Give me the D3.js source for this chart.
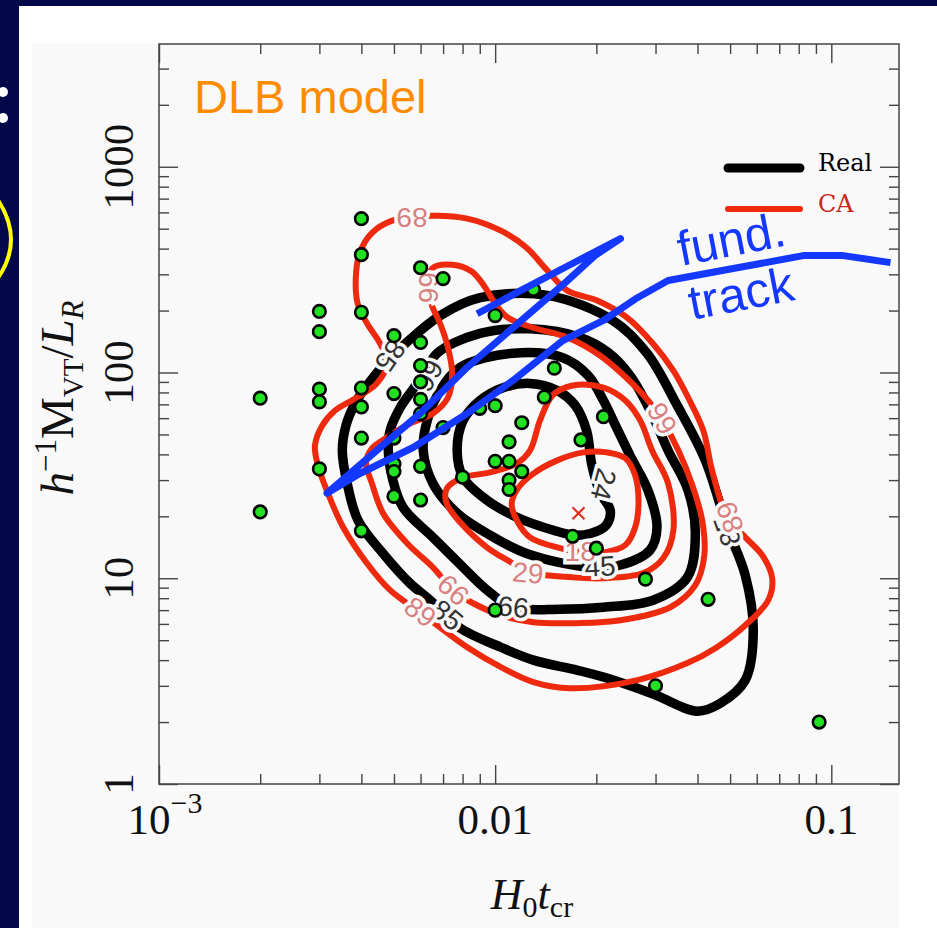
<!DOCTYPE html>
<html>
<head>
<meta charset="utf-8">
<script src="https://cdn.jsdelivr.net/npm/d3@7"></script>
<style>
  html, body { margin: 0; padding: 0; background: #02084a; }
  svg { display: block; }
</style>
</head>
<body>
<svg id="chart" width="937" height="928"></svg>
<script>
// ---- values ----
const xMajorTicks = [0.001, 0.01, 0.1];
const yMajorTicks = [1, 10, 100, 1000];
const yTickLabels = ["1", "10", "100", "1000"];

// groups (green dots): [H0 t_cr, M/L]
const groups = [
  [0.002, 75], [0.002, 21],
  [0.003, 198], [0.003, 158], [0.003, 83], [0.003, 72], [0.003, 34],
  [0.004, 559], [0.004, 374], [0.004, 196], [0.004, 84], [0.004, 68], [0.004, 48], [0.004, 17],
  [0.005, 151], [0.005, 79], [0.005, 48], [0.005, 36], [0.005, 33], [0.005, 25],
  [0.006, 323], [0.006, 140], [0.006, 108], [0.006, 90], [0.006, 74], [0.006, 63], [0.006, 35], [0.006, 24],
  [0.007, 286], [0.007, 54], [0.008, 31], [0.009, 67],
  [0.010, 69], [0.010, 189], [0.010, 37], [0.010, 7.0],
  [0.011, 46], [0.011, 37], [0.011, 30], [0.011, 27],
  [0.012, 57], [0.012, 33], [0.013, 253], [0.014, 76], [0.015, 105],
  [0.017, 16], [0.018, 47], [0.020, 14], [0.021, 61],
  [0.028, 9.9], [0.030, 3.0], [0.043, 7.9], [0.092, 2.0]
];
const caPeak = [0.0177, 20.7];

// "Real" contours (black), outermost first
const realLevels = [85, 66, 45, 24];
const realContours = [
  [[0.00540,138],[0.00686,189],[0.00902,231],[0.0143,237],[0.0224,179],[0.0283,124],[0.0348,69.2],
   [0.0422,37.4],[0.0490,17.7],[0.0555,10.3],[0.0586,5.60],[0.0555,3.20],[0.0468,2.47],[0.0399,2.26],
   [0.0295,2.74],[0.0210,3.31],[0.0175,3.58],[0.0130,4.00],[0.0104,4.62],[0.00787,5.72],[0.00641,7.82],
   [0.00558,9.46],[0.00464,13.2],[0.00391,19.1],[0.00363,28.9],[0.00351,41.8],[0.00360,55.3],
   [0.00383,70.7],[0.00416,86.5],[0.00487,118]],
  [[0.00672,124],[0.00902,155],[0.0127,163],[0.0179,148],[0.0217,125],[0.0252,96.7],[0.0289,65.4],
   [0.0327,41.8],[0.0375,26.7],[0.0394,16.5],[0.0373,10.1],[0.0295,7.82],[0.0210,7.23],[0.0156,7.07],
   [0.0113,7.23],[0.00947,8.75],[0.00803,11.3],[0.00653,15.8],[0.00532,22.1],[0.00494,30.9],
   [0.00481,41.8],[0.00487,52.3],[0.00522,67.6],[0.00566,81.8],[0.00619,100]],
  [[0.00787,106],[0.0113,124],[0.0159,118],[0.0189,96.7],[0.0210,73.1],[0.0228,55.3],[0.0252,39.5],
   [0.0285,26.7],[0.0303,17.7],[0.0289,13.7],[0.0236,11.6],[0.0192,11.3],[0.0124,13.2],[0.00947,16.5],
   [0.00771,20.7],[0.00653,28.9],[0.00611,41.8],[0.00628,58.5],[0.00686,81.8]],
  [[0.00803,58.5],[0.00902,73.1],[0.0106,84.5],[0.0127,88.5],[0.0153,81.8],[0.0173,69.2],[0.0187,52.3],
   [0.0194,35.4],[0.0205,26.1],[0.0220,21.4],[0.0214,18.1],[0.0192,16.5],[0.0171,16.2],[0.0149,17.1],
   [0.0116,19.8],[0.00947,23.9],[0.00803,30.9],[0.00771,41.8]]
];
const realLabelSpots = [
  [85, 0.00487, 121], [66, 0.00632, 96.7], [24, 0.0210, 28.6], [45, 0.0205, 11.4],
  [66, 0.0113, 7.23], [85, 0.00719, 6.61], [85, 0.0490, 17.1]
];
const realLabelAngles = [125, 120, 105, -3, 5, 40, 250];

// "CA" contours (red), outermost first
const caLevels = [89, 66, 29, 18];
const caContours = [
  [[0.00649,578],[0.00826,560],[0.0104,489],[0.0124,404],[0.0143,313],[0.0164,250],[0.0201,224],
   [0.0247,185],[0.0295,138],[0.0339,102],[0.0375,75.6],[0.0416,52.3],[0.0442,33.4],[0.0490,19.8],
   [0.0555,15.8],[0.0624,12.9],[0.0667,10.0],[0.0649,7.82],[0.0555,5.91],[0.0452,4.57],[0.0373,3.87],
   [0.0265,3.20],[0.0167,2.92],[0.0130,3.13],[0.0104,3.70],[0.00826,4.62],[0.00672,5.91],[0.00547,7.56],
   [0.00487,8.75],[0.00416,11.8],[0.00353,17.7],[0.00318,25.9],[0.00297,35.4],[0.00291,44.2],
   [0.00306,55.3],[0.00334,65.4],[0.00388,75.6],[0.00445,88.5],[0.00477,111],[0.00455,138],
   [0.00416,173],[0.00390,216],[0.00385,289],[0.00395,378],[0.00428,473],[0.00494,547]],
  [[0.00649,320],[0.00745,334],[0.00854,309],[0.00934,259],[0.0100,216],[0.0109,185],[0.0130,165],
   [0.0164,148],[0.0205,121],[0.0247,93.5],[0.0285,73.1],[0.0314,58.5],[0.0351,41.8],[0.0386,28.3],
   [0.0413,19.1],[0.0419,12.9],[0.0394,9.25],[0.0332,7.23],[0.0236,6.25],[0.0175,6.05],[0.0130,6.11],
   [0.0104,6.61],[0.00860,7.56],[0.00750,8.75],[0.00653,11.3],[0.00547,14.8],[0.00464,20.7],
   [0.00430,28.9],[0.00413,36.6],[0.00430,42.8],[0.00477,48.4],[0.00558,56.5],[0.00653,63.2],
   [0.00724,75.6],[0.00745,98.9],[0.00724,132],[0.00686,173],[0.00649,211],[0.00632,259]],
  [[0.00719,27.4],[0.00803,30.9],[0.00966,32.7],[0.0116,36.1],[0.0127,41.8],[0.0136,58.5],[0.0148,77.3],
   [0.0170,86.5],[0.0210,84.5],[0.0244,73.1],[0.0270,58.5],[0.0293,41.8],[0.0327,28.9],[0.0339,17.1],
   [0.0316,12.5],[0.0276,10.6],[0.0210,10.0],[0.0170,10.1],[0.0125,10.7],[0.0111,12.0],[0.00947,14.1],
   [0.00787,18.7],[0.00715,23.4]],
  [[0.0112,23.1],[0.0117,27.4],[0.0129,32.0],[0.0153,37.4],[0.0183,40.9],[0.0215,40.9],[0.0244,38.3],
   [0.0261,31.6],[0.0267,23.9],[0.0261,17.7],[0.0244,14.5],[0.0213,13.4],[0.0179,13.4],[0.0156,14.0],
   [0.0127,15.8],[0.0116,19.1]]
];
const caLabelSpots = [
  [89, 0.00566, 565], [66, 0.00632, 259], [66, 0.0314, 59.8], [89, 0.0500, 19.8],
  [18, 0.0179, 13.5], [29, 0.0125, 10.6], [66, 0.00750, 8.75], [89, 0.00598, 6.84]
];
const caLabelAngles = [180, 90, 240, 250, 0, 5, 42, 36];

// hand-drawn fundamental track
const fundTrack = [
  [0.00884,193],[0.0119,250],[0.0167,334],[0.0236,447],[0.0198,370],[0.0162,274],[0.0113,165],
  [0.00826,106],[0.00598,63.2],[0.00455,43.2],[0.00316,25.9],[0.00396,32.3],[0.00570,43.2],
  [0.00826,63.2],[0.0113,91.5],[0.0159,143],[0.0210,179],[0.0265,231],[0.0327,280],[0.0525,323],
  [0.0826,370],[0.1085,370],[0.150,342]
];

const legendItems = [["Real", "#000000"], ["CA", "#c8281e"]];

// ---- layout ----
const width = 937, height = 928;
const margin = { left: 159, right: 899, top: 44, bottom: 784 };

const svg = d3.select("#chart");

svg.append("rect").attr("width", width).attr("height", height).attr("fill", "#02084a");
svg.append("rect").attr("x", 19).attr("y", 6).attr("width", width - 19).attr("height", height - 6)
  .attr("fill", "#ffffff");
svg.append("rect").attr("x", 32).attr("y", 43).attr("width", margin.right - 32).attr("height", height - 43)
  .attr("fill", "#f9f9f9");

// leftovers of the slide behind the figure
svg.append("circle").attr("cx", 3).attr("cy", 92).attr("r", 5).attr("fill", "#ffffff");
svg.append("circle").attr("cx", 3).attr("cy", 118).attr("r", 5).attr("fill", "#ffffff");
svg.append("path").attr("d", "M-2,200 Q24,240 -2,278").attr("fill", "none")
  .attr("stroke", "#ffff00").attr("stroke-width", 4);

const x = d3.scaleLog().domain([0.001, 0.159]).range([margin.left, margin.right]);
const y = d3.scaleLog().domain([1, 3950]).range([margin.bottom, margin.top]);

// ---- axes ----
const isPow10 = v => Math.abs(Math.log10(v) - Math.round(Math.log10(v))) < 1e-6;
const xMinor = x.ticks().filter(v => !isPow10(v));
const yMinor = y.ticks().filter(v => !isPow10(v));

function tickAxis(axisFn, scale, values, size, tx, ty) {
  const g = svg.append("g")
    .attr("transform", `translate(${tx},${ty})`)
    .call(axisFn(scale).tickValues(values).tickSize(-size).tickFormat(""));
  g.select(".domain").remove();
  g.selectAll(".tick line").attr("stroke", "#444").attr("stroke-width", 1.4);
}
tickAxis(d3.axisBottom, x, xMinor, 10, 0, margin.bottom);
tickAxis(d3.axisBottom, x, xMajorTicks, 19, 0, margin.bottom);
tickAxis(d3.axisTop, x, xMinor, 10, 0, margin.top);
tickAxis(d3.axisTop, x, xMajorTicks, 19, 0, margin.top);
tickAxis(d3.axisLeft, y, yMinor, 10, margin.left, 0);
tickAxis(d3.axisLeft, y, yMajorTicks, 19, margin.left, 0);
tickAxis(d3.axisRight, y, yMinor, 10, margin.right, 0);
tickAxis(d3.axisRight, y, yMajorTicks, 19, margin.right, 0);

svg.append("rect")
  .attr("x", margin.left).attr("y", margin.top)
  .attr("width", margin.right - margin.left).attr("height", margin.bottom - margin.top)
  .attr("fill", "none").attr("stroke", "#444").attr("stroke-width", 1.5);

// tick labels
const serif = "'Liberation Serif', 'DejaVu Serif', serif";
const xl = svg.append("g").attr("font-family", serif).attr("fill", "#111").attr("font-size", 43);
const t0 = xl.append("text").attr("x", x(xMajorTicks[0]) + 6).attr("y", 834).attr("text-anchor", "middle");
t0.append("tspan").text("10");
t0.append("tspan").attr("dy", -21).attr("font-size", 30).text("\u22123");
xl.append("text").attr("x", x(xMajorTicks[1])).attr("y", 834).attr("text-anchor", "middle").text("0.01");
xl.append("text").attr("x", x(xMajorTicks[2])).attr("y", 834).attr("text-anchor", "middle").text("0.1");

yMajorTicks.forEach((v, i) => {
  svg.append("text")
    .attr("transform", `translate(133,${y(v)}) rotate(-90)`)
    .attr("text-anchor", "middle")
    .attr("font-family", serif).attr("font-size", 43).attr("fill", "#111")
    .text(yTickLabels[i]);
});

// axis titles
const xt = svg.append("text")
  .attr("x", (margin.left + margin.right) / 2 + 3).attr("y", 909)
  .attr("text-anchor", "middle").attr("font-family", serif).attr("font-size", 44).attr("fill", "#111");
xt.append("tspan").attr("font-style", "italic").text("H");
xt.append("tspan").attr("dy", 8).attr("font-size", 30).text("0");
xt.append("tspan").attr("dy", -8).attr("font-style", "italic").text("t");
xt.append("tspan").attr("dy", 8).attr("font-size", 30).text("cr");

const yt = svg.append("text")
  .attr("transform", "translate(73,398) rotate(-90)")
  .attr("text-anchor", "middle").attr("font-family", serif).attr("font-size", 47).attr("fill", "#111");
yt.append("tspan").attr("font-style", "italic").text("h");
yt.append("tspan").attr("dy", -17).attr("font-size", 31).text("\u22121");
yt.append("tspan").attr("dy", 17).text("M");
yt.append("tspan").attr("dy", 10).attr("font-size", 29).text("VT");
yt.append("tspan").attr("dy", -10).text("/");
yt.append("tspan").attr("font-style", "italic").text("L");
yt.append("tspan").attr("dy", 10).attr("font-size", 31).attr("font-style", "italic").text("R");

// ---- contours ----
const contourLine = d3.line()
  .x(d => x(d[0])).y(d => y(d[1]))
  .curve(d3.curveCatmullRomClosed.alpha(0.5));

const plotArea = svg.append("g");
realContours.forEach(c => {
  plotArea.append("path").attr("d", contourLine(c))
    .attr("fill", "none").attr("stroke", "#000").attr("stroke-width", 9.5);
});
caContours.forEach(c => {
  plotArea.append("path").attr("d", contourLine(c))
    .attr("fill", "none").attr("stroke", "#ee2a0e").attr("stroke-width", 6);
});

function contourLabels(spots, angles, color) {
  spots.forEach((s, i) => {
    plotArea.append("text")
      .attr("transform", `translate(${x(s[1])},${y(s[2])}) rotate(${angles[i]})`)
      .attr("text-anchor", "middle").attr("dominant-baseline", "central")
      .attr("font-family", "'Liberation Sans', Arial, sans-serif").attr("font-size", 28)
      .attr("fill", color).attr("stroke", "#f9f9f9").attr("stroke-width", 7)
      .attr("paint-order", "stroke")
      .text(s[0]);
  });
}
contourLabels(realLabelSpots, realLabelAngles, "#333");
contourLabels(caLabelSpots, caLabelAngles, "#d88080");

// ---- group points ----
plotArea.selectAll("circle.grp").data(groups).enter().append("circle")
  .attr("class", "grp")
  .attr("cx", d => x(d[0])).attr("cy", d => y(d[1])).attr("r", 6.3)
  .attr("fill", "#22e022").attr("stroke", "#000").attr("stroke-width", 2.6);

// CA peak marker
const px = x(caPeak[0]), py = y(caPeak[1]);
plotArea.append("path")
  .attr("d", `M${px - 6},${py - 6}L${px + 6},${py + 6}M${px - 6},${py + 6}L${px + 6},${py - 6}`)
  .attr("stroke", "#e03020").attr("stroke-width", 2.2);

// ---- legend ----
legendItems.forEach((item, i) => {
  const ly = 168 + i * 41;
  svg.append("line").attr("x1", 728).attr("x2", 800).attr("y1", ly).attr("y2", ly)
    .attr("stroke", i === 0 ? "#000" : "#ee2a0e").attr("stroke-width", i === 0 ? 9 : 6)
    .attr("stroke-linecap", "round");
  svg.append("text").attr("x", 818).attr("y", ly + 3)
    .attr("font-family", "'DejaVu Serif', serif").attr("font-size", 24)
    .attr("fill", item[1]).text(item[0]);
});

// ---- fundamental track annotation ----
svg.append("path")
  .attr("d", d3.line().x(d => x(d[0])).y(d => y(d[1])).curve(d3.curveLinear)(fundTrack))
  .attr("fill", "none").attr("stroke", "#1438ff").attr("stroke-width", 7)
  .attr("stroke-linejoin", "round");

const sans = "'Liberation Sans', Arial, sans-serif";
svg.append("text").attr("transform", "translate(681,266) rotate(-11)")
  .attr("font-family", sans).attr("font-size", 49).attr("fill", "#1438ff").text("fund.");
svg.append("text").attr("transform", "translate(692,320) rotate(-11)")
  .attr("font-family", sans).attr("font-size", 49).attr("fill", "#1438ff").text("track");

// model name
svg.append("text").attr("x", 194).attr("y", 113)
  .attr("font-family", sans).attr("font-size", 47).attr("fill", "#ff8c00")
  .text("DLB model");
</script>
</body>
</html>
